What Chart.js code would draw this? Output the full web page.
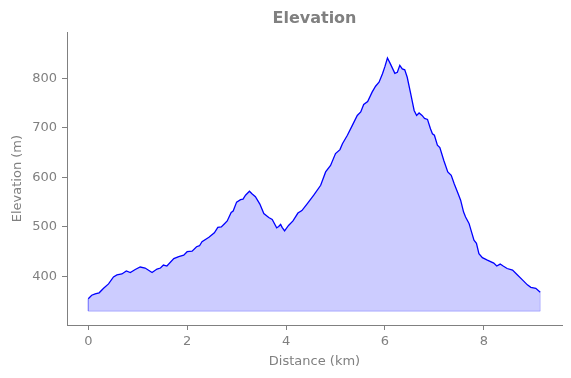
<!DOCTYPE html>
<html>
<head>
<meta charset="utf-8">
<script src="https://cdn.jsdelivr.net/npm/chart.js@4.4.1/dist/chart.umd.min.js"></script>
<style>
  html, body { margin: 0; padding: 0; background: #fff; }
  canvas { display: block; }
</style>
</head>
<body>
<canvas id="elevation-chart" width="571" height="378"></canvas>
<script>
// profile
const distanceKm = [
  0, 0.07, 0.14, 0.22, 0.31, 0.41, 0.51, 0.58, 0.68, 0.77,
  0.85, 0.95, 1.05, 1.15, 1.29, 1.39, 1.46, 1.52, 1.59, 1.73,
  1.83, 1.93, 2.0, 2.1, 2.19, 2.25, 2.3, 2.44, 2.55, 2.62,
  2.69, 2.75, 2.81, 2.89, 2.93, 3.0, 3.08, 3.13, 3.18, 3.26,
  3.31, 3.38, 3.47, 3.55, 3.65, 3.72, 3.81, 3.85, 3.89, 3.92,
  3.97, 4.05, 4.14, 4.24, 4.32, 4.43, 4.56, 4.70, 4.80, 4.90,
  5.0, 5.09, 5.14, 5.24, 5.34, 5.44, 5.51, 5.57, 5.65, 5.74,
  5.81, 5.88, 5.95, 6.0, 6.05, 6.11, 6.20, 6.25, 6.30, 6.35,
  6.40, 6.45, 6.52, 6.59, 6.64, 6.69, 6.75, 6.80, 6.86, 6.92,
  6.96, 7.0, 7.06, 7.11, 7.19, 7.27, 7.34, 7.40, 7.48, 7.53,
  7.59, 7.63, 7.70, 7.75, 7.80, 7.85, 7.90, 7.97, 8.07, 8.20,
  8.26, 8.33, 8.39, 8.47, 8.58, 8.68, 8.78, 8.88, 8.95, 9.05, 9.14
];
const elevationM = [
  355, 362, 365, 367, 376, 385, 399, 403, 405, 411,
  408, 414, 419, 417, 408, 415, 417, 423, 421, 436,
  440, 443, 450, 451, 460, 462, 470, 479, 488, 499,
  500, 506, 512, 529, 532, 550, 555, 556, 564, 572,
  567, 561, 546, 527, 519, 515, 498, 501, 505, 499,
  492, 503, 512, 528, 533, 547, 564, 584, 611, 624,
  648, 656, 668, 685, 705, 725, 732, 747, 753, 772,
  784, 792, 809, 824, 841, 829, 810, 812, 826, 819,
  817, 802, 769, 735, 725, 730, 725, 719, 717, 698,
  688, 685, 665, 660, 634, 611, 604, 587, 567, 554,
  530, 520, 507, 490, 473, 467, 446, 438, 433, 427,
  421, 425, 421, 416, 413, 403, 393, 383, 378, 376, 368
];
const fillBaseM = 330;
const xTicks = [0, 2, 4, 6, 8];
const yTicks = [400, 500, 600, 700, 800];

const GRAY = '#808080';
const FONT = 'DejaVu Sans';

const profile = distanceKm.map((d, i) => ({ x: d, y: elevationM[i] }));
const last = distanceKm.length - 1;
// outline of the filled area (sides + bottom)
const fillEdge = [
  { x: distanceKm[0], y: elevationM[0] },
  { x: distanceKm[0], y: fillBaseM },
  { x: distanceKm[last], y: fillBaseM },
  { x: distanceKm[last], y: elevationM[last] }
];

const fixedTicks = (list) => (scale) => {
  scale.ticks = list.map(v => ({ value: v }));
};

new Chart(document.getElementById('elevation-chart'), {
  type: 'line',
  data: {
    datasets: [{
      label: 'Elevation',
      data: profile,
      borderColor: '#0000ff',
      borderWidth: 1.3,
      backgroundColor: 'rgba(0, 0, 255, 0.2)',
      fill: { value: fillBaseM },
      tension: 0,
      pointRadius: 0
    }, {
      label: 'edge',
      data: fillEdge,
      borderColor: 'rgba(0, 0, 255, 0.22)',
      borderWidth: 1,
      fill: false,
      tension: 0,
      pointRadius: 0
    }]
  },
  options: {
    responsive: false,
    devicePixelRatio: 1,
    animation: false,
    layout: { padding: { left: 0, right: 9, top: 0, bottom: 0 } },
    plugins: {
      legend: { display: false },
      tooltip: { enabled: false },
      title: {
        display: true,
        fullSize: false,
        text: 'Elevation',
        color: GRAY,
        font: { family: FONT, size: 16, weight: 'bold' },
        padding: { top: 9, bottom: 4 }
      }
    },
    scales: {
      x: {
        type: 'linear',
        min: -0.43,
        max: 9.58,
        afterBuildTicks: fixedTicks(xTicks),
        afterFit: (scale) => { scale.height = 53; },
        grid: { drawOnChartArea: false, drawTicks: true, tickLength: 5, color: GRAY },
        border: { display: true, color: GRAY, width: 1 },
        ticks: { color: GRAY, font: { family: FONT, size: 13 }, padding: 4, maxRotation: 0 },
        title: {
          display: true,
          text: 'Distance (km)',
          color: GRAY,
          font: { family: FONT, size: 13 },
          padding: { top: 0, bottom: 9 }
        }
      },
      y: {
        type: 'linear',
        min: 302,
        max: 893,
        afterBuildTicks: fixedTicks(yTicks),
        afterFit: (scale) => { scale.width = 67; },
        grid: { drawOnChartArea: false, drawTicks: true, tickLength: 5, color: GRAY },
        border: { display: true, color: GRAY, width: 1 },
        ticks: { color: GRAY, font: { family: FONT, size: 13 }, padding: 5 },
        title: {
          display: true,
          text: 'Elevation (m)',
          color: GRAY,
          font: { family: FONT, size: 13 },
          padding: { top: 10, bottom: 0 }
        }
      }
    }
  }
});
</script>
</body>
</html>
